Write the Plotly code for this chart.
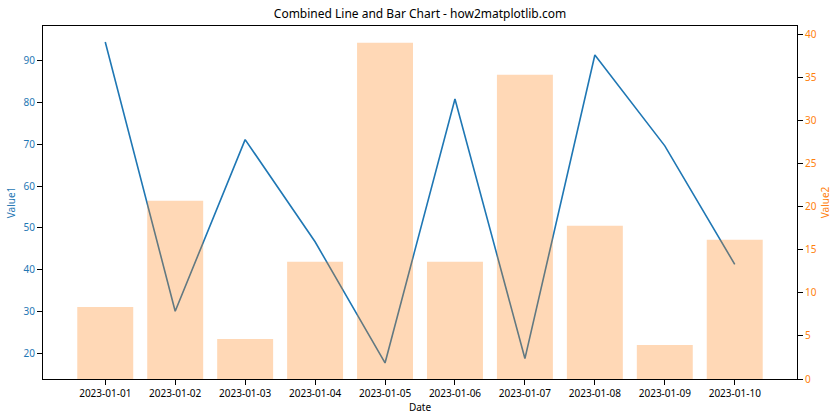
import plotly.graph_objects as go

dates = ["2023-01-01", "2023-01-02", "2023-01-03", "2023-01-04", "2023-01-05",
         "2023-01-06", "2023-01-07", "2023-01-08", "2023-01-09", "2023-01-10"]
value1 = [94.4, 30.1, 71.1, 46.7, 17.75, 80.8, 18.8, 91.3, 69.6, 41.3]
value2 = [8.36, 20.67, 4.65, 13.59, 39.0, 13.59, 35.3, 17.77, 3.95, 16.14]

blue = "#1f77b4"
orange = "#ff7f0e"
font = "Noto Sans, DejaVu Sans, sans-serif"

fig = go.Figure()
fig.add_trace(go.Scatter(x=dates, y=value1, mode="lines", line=dict(color=blue, width=1.6),
                         name="Value1", yaxis="y"))
fig.add_trace(go.Bar(x=dates, y=value2, marker=dict(color="rgba(255,127,14,0.3)", line=dict(width=0)),
                     width=0.8, name="Value2", yaxis="y2"))

v1min, v1max = min(value1), max(value1)
pad = (v1max - v1min) * 0.05

fig.update_layout(
    width=840, height=420,
    margin=dict(l=43, r=43, t=26, b=41),
    paper_bgcolor="white", plot_bgcolor="white",
    showlegend=False,
    font=dict(family=font, size=10, color="black"),
    title=dict(text="Combined Line and Bar Chart - how2matplotlib.com", x=0.5, xanchor="center",
               y=1 - 14 / 420, yanchor="middle", font=dict(size=12, color="black")),
    xaxis=dict(type="category", range=[-0.89, 9.89], showline=True, mirror=True, linecolor="black",
               linewidth=1, ticks="outside", ticklen=5, tickcolor="black", showgrid=False,
               automargin=False,
               title=dict(text="Date", font=dict(size=10), standoff=4), tickfont=dict(size=10)),
    yaxis=dict(range=[v1min - pad, v1max + pad], dtick=10, showline=True, linecolor="black",
               linewidth=1, ticks="outside", ticklen=5, tickcolor="black", showgrid=False,
               zeroline=False, tickfont=dict(color=blue, size=10), automargin=False,
               title=dict(text="Value1", font=dict(color=blue, size=10), standoff=6)),
    yaxis2=dict(overlaying="y", side="right", range=[0, max(value2) * 1.05], dtick=5, showline=True,
                linecolor="black", linewidth=1, ticks="outside", ticklen=5, tickcolor="black",
                showgrid=False, zeroline=False, tickfont=dict(color=orange, size=10), automargin=False,
                title=dict(text="Value2", font=dict(color=orange, size=10), standoff=6)),
    bargap=0.2,
)

fig.write_html("out.html", config={"displayModeBar": False})

with open("out.html", "r", encoding="utf-8") as f:
    html = f.read()
html = html.replace("<head>", "<head><style>html,body{margin:0;padding:0;overflow:hidden;}</style>", 1)
with open("out.html", "w", encoding="utf-8") as f:
    f.write(html)
